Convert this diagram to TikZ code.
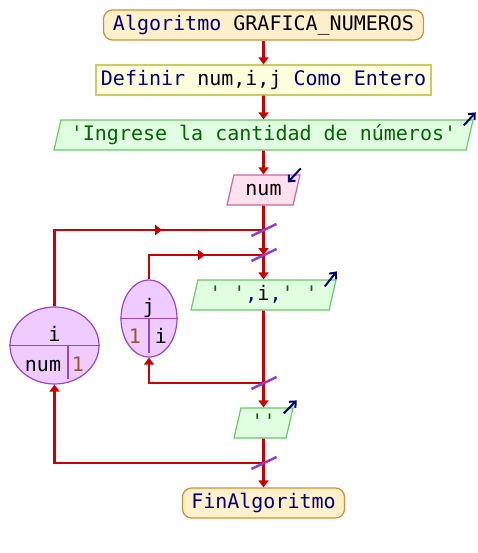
\documentclass[tikz,border=0pt]{standalone}
\usepackage{fontspec}
\newfontfamily\psmono{DejaVu Sans Mono}
\usetikzlibrary{shapes.geometric,arrows.meta,calc,decorations.markings}
\definecolor{flow}{HTML}{CC0000}
\definecolor{termF}{HTML}{FFF0CC}
\definecolor{termB}{HTML}{D09030}
\definecolor{defF}{HTML}{FFFFDD}
\definecolor{defB}{HTML}{CCCC66}
\definecolor{outF}{HTML}{E0FFE0}
\definecolor{outB}{HTML}{66CC66}
\definecolor{inpF}{HTML}{FFE0EE}
\definecolor{inpB}{HTML}{CC6699}
\definecolor{ellF}{HTML}{EECCFF}
\definecolor{ellB}{HTML}{9944CC}
\definecolor{slashC}{HTML}{8A40D0}
\definecolor{kw}{HTML}{000080}
\definecolor{strg}{HTML}{006600}
\definecolor{numc}{HTML}{A0522D}
\begin{document}
\begin{tikzpicture}[x=1pt,y=-1pt,
  font=\psmono\fontsize{20}{24}\selectfont,
  base/.style={inner sep=0pt, text height=15pt, text depth=4pt},
  term/.style={base, draw=termB, fill=termF, line width=1.2pt, rounded corners=9pt, minimum height=30pt},
  defbox/.style={base, draw=defB, fill=defF, line width=1.2pt, minimum height=30pt},
  para/.style={base, trapezium, trapezium left angle=70, trapezium right angle=110,
    trapezium stretches body, line width=1.2pt, minimum height=30pt},
  outp/.style={para, draw=outB, fill=outF},
  inpp/.style={para, draw=inpB, fill=inpF},
  loopell/.style={ellipse, draw=ellB, fill=ellF, line width=1.2pt, inner sep=0pt},
  divider/.style={draw=ellB, line width=1.2pt},
  flowline/.style={draw=flow, line width=2.6pt},
  tip/.style={-{Triangle[width=10pt,length=7pt]}},
  arr/.style={flowline, tip},
  midarrow/.style={postaction={decorate}, decoration={markings,
    mark=at position #1 with {\arrow[flow, line width=2.6pt]{Triangle[width=10pt,length=7pt]}}}},
  iotick/.style={draw=kw, line width=2pt, -{Straight Barb[length=5pt,width=9pt]}},
  slash/.style={draw=slashC, line width=2.5pt}
]
\useasboundingbox (0,0) rectangle (478,553);

% main nodes
\node[term, minimum width=320pt] (start) at (263.5,25)
  {\textcolor{kw}{Algoritmo} GRAFICA\_NUMEROS};
\node[defbox, minimum width=335pt] (def) at (263.5,80)
  {\textcolor{kw}{Definir} num,i,j \textcolor{kw}{Como Entero}};
\node[outp, minimum width=419pt] (out1) at (263.5,135)
  {\textcolor{strg}{'Ingrese la cantidad de números'}};
\node[inpp, minimum width=73pt] (inp) at (263.5,190) {num};
\node[outp, minimum width=145pt] (out2) at (263.5,295)
  {\textcolor{strg}{' '}\textcolor{kw}{,}i\textcolor{kw}{,}\textcolor{strg}{' '}};
\node[outp, minimum width=59pt] (out3) at (263.5,423) {\textcolor{strg}{''}};
\node[term, minimum width=162pt] (fin) at (263.5,503) {\textcolor{kw}{FinAlgoritmo}};

% loop ellipses
\node[loopell, minimum width=89pt, minimum height=77pt] (iell) at (54.5,345.5) {};
\node[loopell, minimum width=56pt, minimum height=77pt] (jell) at (149,318.5) {};
\draw[divider] (iell.west) -- (iell.east);
\draw[divider] (68,346) -- (68,379);
\draw[divider] (jell.west) -- (jell.east);
\draw[divider] (149,319) -- (149,353);
\node[base] (ivar) at (54.5,335.5) {i};
\node[base] (inum) at (43,365.5) {num};
\node[base] (ione) at (78,365.5) {\textcolor{numc}{1}};
\node[base] (jvar) at (149,307.5) {j};
\node[base] (jone) at (135,337.5) {\textcolor{numc}{1}};
\node[base] (ji) at (161,337.5) {i};

% junction coordinates
\coordinate (s1) at (263.5,230);
\coordinate (s2) at (263.5,255);
\coordinate (s3) at (263.5,383);
\coordinate (s4) at (263.5,463);

% connectors
\draw[arr] (start.south) -- (def.north);
\draw[arr] (def.south) -- (out1.north);
\draw[arr] (out1.south) -- (inp.north);
\draw[arr] (inp.south) -- (s2);
\draw[arr] (s2) -- (out2.north);
\draw[flowline, midarrow=0.645] (iell.north) |- (s1);
\draw[flowline, midarrow=0.58] (jell.north) |- (s2);
\draw[flowline] (out2.south) -- (s3);
\draw[arr] (s3) -| (jell.south);
\draw[arr] (s3) -- (out3.north);
\draw[flowline] (out3.south) -- (s4);
\draw[arr] (s4) -| (iell.south);
\draw[arr] (s4) -- (fin.north);

% loop slashes
\foreach \s in {s1,s2,s3,s4}
  \draw[slash] ($(\s)+(-12,6)$) -- ($(\s)+(13,-6)$);

% io markers
\draw[iotick] ($(out1.top right corner)+(-10,6)$) -- ($(out1.top right corner)+(2,-7)$);
\draw[iotick] ($(inp.top right corner)+(0,-6)$) -- ($(inp.top right corner)+(-13,8)$);
\draw[iotick] ($(out2.top right corner)+(-12,7)$) -- ($(out2.top right corner)+(0,-8)$);
\draw[iotick] ($(out3.top right corner)+(-10,6)$) -- ($(out3.top right corner)+(3,-7)$);
\end{tikzpicture}
\end{document}
